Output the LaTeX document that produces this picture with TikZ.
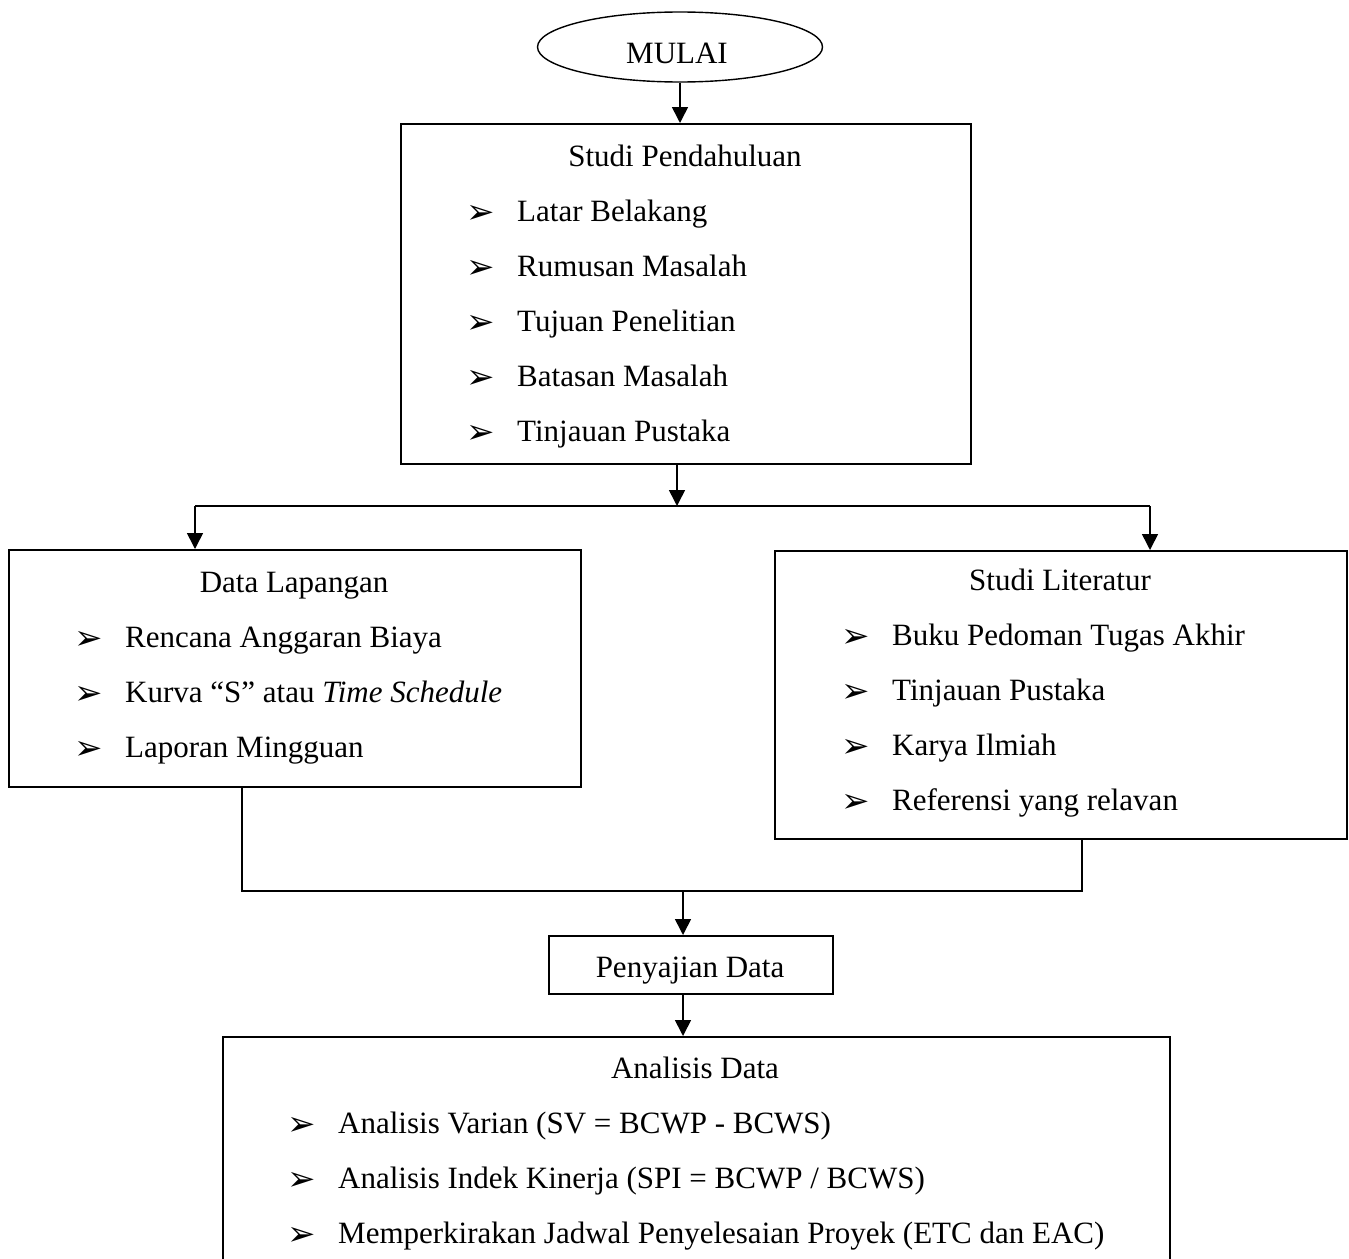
\documentclass[tikz,border=0pt]{standalone}
\usepackage{fontspec}
\setmainfont{Liberation Serif}
\newfontfamily\symfont{DejaVu Sans}
\usetikzlibrary{arrows.meta,shapes.geometric}

\tikzset{
  box/.style={draw, line width=1.8pt, anchor=north west, inner sep=0pt},
  head/.style={anchor=base, inner sep=0pt, font=\fontsize{31}{37}\selectfont},
  item/.style={anchor=base west, inner sep=0pt, font=\fontsize{31}{37}\selectfont},
  tip/.style={anchor=base, inner sep=0pt, font=\symfont\fontsize{34}{40}\selectfont},
  arr/.style={line width=1.6pt, -{Triangle[width=16pt,length=16pt]}},
  link/.style={line width=1.6pt}
}

\begin{document}
\begin{tikzpicture}[x=1pt, y=-1pt]
\useasboundingbox (0,0) rectangle (1349,1258);
\clip (0,0) rectangle (1349,1258);

% start
\node[draw, ellipse, line width=1.4pt, minimum width=285pt, minimum height=70pt] (mulai) at (680,47) {};
\node[head] (mulaiT) at (677,63) {MULAI};

% studi pendahuluan
\node[box, minimum width=570pt, minimum height=340pt] (studi) at (400,123) {};
\node[head] (studiT) at (685,166) {Studi Pendahuluan};
\foreach \t [count=\i] in {Latar Belakang, Rumusan Masalah, Tujuan Penelitian, Batasan Masalah, Tinjauan Pustaka} {
  \node[tip] (studiB\i) at (481,168+55*\i) {➢};
  \node[item] (studi\i) at (517,166+55*\i) {\t};
}

% data lapangan
\node[box, minimum width=572pt, minimum height=237pt] (lap) at (8,549) {};
\node[head] (lapT) at (294,592) {Data Lapangan};
\foreach \t [count=\i] in {Rencana Anggaran Biaya, {Kurva “S” atau \textit{Time Schedule}}, Laporan Mingguan} {
  \node[tip] (lapB\i) at (89,594+55*\i) {➢};
  \node[item] (lap\i) at (125,592+55*\i) {\t};
}

% studi literatur
\node[box, minimum width=572pt, minimum height=288pt] (lit) at (774,550) {};
\node[head] (litT) at (1060,590) {Studi Literatur};
\foreach \t [count=\i] in {Buku Pedoman Tugas Akhir, Tinjauan Pustaka, Karya Ilmiah, Referensi yang relavan} {
  \node[tip] (litB\i) at (856,592+55*\i) {➢};
  \node[item] (lit\i) at (892,590+55*\i) {\t};
}

% penyajian data
\node[box, minimum width=284pt, minimum height=58pt] (saji) at (548,935) {};
\node[head] (sajiT) at (690,977) {Penyajian Data};

% analisis data
\node[box, minimum width=947pt, minimum height=300pt] (anl) at (222,1036) {};
\node[head] (anlT) at (695,1078) {Analisis Data};
\foreach \t [count=\i] in {Analisis Varian (SV = BCWP - BCWS), Analisis Indek Kinerja (SPI = BCWP / BCWS), Memperkirakan Jadwal Penyelesaian Proyek (ETC dan EAC)} {
  \node[tip] (anlB\i) at (302,1080+55*\i) {➢};
  \node[item] (anl\i) at (338,1078+55*\i) {\t};
}

% connectors
\coordinate (split) at (677,506);
\coordinate (splitL) at (195,506);
\coordinate (splitR) at (1150,506);
\coordinate (joinL) at (242,891);
\coordinate (joinR) at (1082,891);
\coordinate (join) at (683,891);

\draw[arr] (mulai.south) -- (mulai.south |- studi.north);
\draw[arr] (split |- studi.south) -- (split);
\draw[link] (splitL) -- (splitR);
\draw[arr] (splitL) -- (splitL |- lap.north);
\draw[arr] (splitR) -- (splitR |- lit.north);
\draw[link] (joinL |- lap.south) -- (joinL) -- (joinR) -- (joinR |- lit.south);
\draw[arr] (join) -- (join |- saji.north);
\draw[arr] (join |- saji.south) -- (join |- anl.north);
\end{tikzpicture}
\end{document}
